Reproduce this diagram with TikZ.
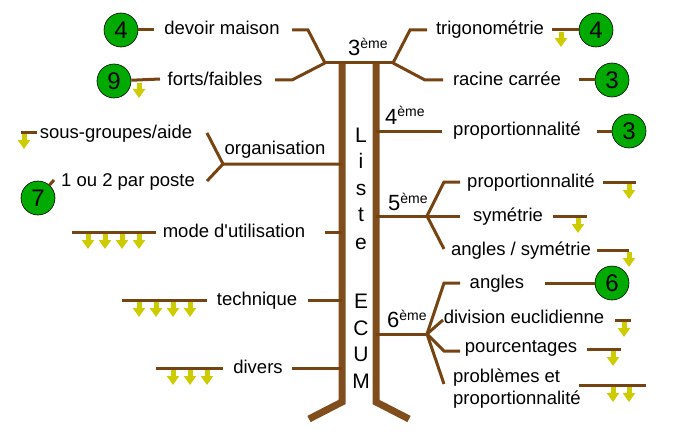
\documentclass[tikz,border=0pt]{standalone}
\usepackage{fontspec}
\setmainfont{Liberation Sans}
\usetikzlibrary{arrows.meta}
\definecolor{br}{RGB}{117,68,18}
\definecolor{trunkc}{RGB}{128,78,28}
\definecolor{yel}{RGB}{204,204,0}
\definecolor{grn}{RGB}{0,170,0}
\begin{document}
\begin{tikzpicture}[x=1pt,y=-1pt,
  branch/.style={br,line width=3pt},
  trunk/.style={trunkc,line width=7pt},
  lbl/.style={inner sep=0pt,text height=13pt,text depth=3pt,font=\fontsize{18.5}{22}\selectfont},
  vlet/.style={inner sep=0pt,anchor=base,font=\fontsize{21}{24}\selectfont},
  grade/.style={inner sep=0pt,anchor=base west},
  num/.style={circle,draw=black,fill=grn,minimum size=34pt,inner sep=0pt,line width=0.6pt,font=\fontsize{24}{24}\selectfont},
  yarr/.style={yel,line width=5pt,-{Triangle[width=12pt,length=9pt]}}]
\useasboundingbox (0,0) rectangle (699,444);
\newcommand{\gradetext}[1]{{\fontsize{22}{24}\selectfont #1}\raisebox{7pt}{\fontsize{14}{14}\selectfont ème}}

% trunk
\coordinate (tLt) at (342,63); \coordinate (tLb) at (342,402);
\coordinate (tRt) at (376,63); \coordinate (tRb) at (376,402);
\coordinate (fL) at (309,419); \coordinate (fR) at (409,419);
\draw[trunk] (tLt) -- (tLb) -- (fL);
\draw[trunk] (tRt) -- (tRb) -- (fR);

% vertical letters
\foreach \ch/\yy/\nm in {L/142/a,i/168/b,s/195/c,t/221/d,e/249/e,E/308/f,C/335/g,U/361/h,M/388/i}
  \node[vlet] (v\nm) at (361,\yy) {\ch};

% 3eme
\coordinate (j3L) at (325,63); \coordinate (j3R) at (393,63);
\draw[branch] (j3L) -- (j3R);
\node[grade] (g3) at (348,56) {\gradetext{3}};

% devoir maison
\node[lbl] (dm) at (222,30) {devoir maison};
\coordinate (dmK) at (308,30); \coordinate (dmE) at (292,30);
\draw[branch] (j3L) -- (dmK) -- (dmE);
\node[num] (n4a) at (121,30) {4};
\coordinate (dmW) at (154,30);
\draw[branch] (n4a) -- (dmW);

% forts/faibles
\node[lbl] (ff) at (215,80) {forts/faibles};
\coordinate (ffK) at (292,80); \coordinate (ffE) at (275,80);
\draw[branch] (j3L) -- (ffK) -- (ffE);
\node[num] (n9) at (114,81) {9};
\coordinate (ffW) at (160,79);
\draw[branch] (n9) -- (ffW);
\coordinate (a9) at (139,83);
\draw[yarr] (a9) -- ++(0,15);

% organisation
\node[lbl] (org) at (275,149) {organisation};
\coordinate (orgT) at (342,164); \coordinate (orgJ) at (223,164);
\coordinate (orgU) at (207,133); \coordinate (orgD) at (207,181);
\draw[branch] (orgT) -- (orgJ) -- (orgU);
\draw[branch] (orgJ) -- (orgD);
\node[lbl] (sga) at (116,133) {sous-groupes/aide};
\coordinate (sgaW) at (21,132); \coordinate (sgaE) at (37,132);
\draw[branch] (sgaW) -- (sgaE);
\coordinate (asg) at (24,134);
\draw[yarr] (asg) -- ++(0,15);
\node[lbl] (pp) at (128,181) {1 ou 2 par poste};
\node[num] (n7) at (38,198) {7};
\coordinate (ppW) at (54,180);
\draw[branch] (n7) -- (ppW);

% mode d'utilisation
\node[lbl] (mu) at (234,232) {mode d\textquotesingle utilisation};
\coordinate (muT) at (342,232); \coordinate (muE) at (325,232);
\draw[branch] (muT) -- (muE);
\coordinate (muA) at (72,232); \coordinate (muB) at (156,232);
\draw[branch] (muA) -- (muB);
\foreach \xx in {88,105,122,139} \draw[yarr] (\xx,234) -- ++(0,15);

% technique
\node[lbl] (tq) at (257,300) {technique};
\coordinate (tqT) at (342,300); \coordinate (tqE) at (308,300);
\draw[branch] (tqT) -- (tqE);
\coordinate (tqA) at (122,300); \coordinate (tqB) at (207,300);
\draw[branch] (tqA) -- (tqB);
\foreach \xx in {139,156,173,190} \draw[yarr] (\xx,302) -- ++(0,15);

% divers
\node[lbl] (dv) at (258,368) {divers};
\coordinate (dvT) at (342,368); \coordinate (dvE) at (292,368);
\draw[branch] (dvT) -- (dvE);
\coordinate (dvA) at (156,368); \coordinate (dvB) at (223,368);
\draw[branch] (dvA) -- (dvB);
\foreach \xx in {173,190,207} \draw[yarr] (\xx,370) -- ++(0,15);

% trigonometrie
\node[lbl] (tr) at (490,30) {trigonométrie};
\coordinate (trK) at (410,30); \coordinate (trW) at (427,30);
\draw[branch] (j3R) -- (trK) -- (trW);
\node[num] (n4b) at (596,30) {4};
\coordinate (trE) at (552,30);
\draw[branch] (trE) -- (n4b);
\coordinate (atr) at (561,32);
\draw[yarr] (atr) -- ++(0,15);

% racine carree
\node[lbl] (rc) at (507,80) {racine carrée};
\coordinate (rcK) at (425,80); \coordinate (rcW) at (443,80);
\draw[branch] (j3R) -- (rcK) -- (rcW);
\node[num] (n3a) at (612,80) {3};
\coordinate (rcE) at (579,80);
\draw[branch] (rcE) -- (n3a);

% 4eme
\node[grade] (g4) at (385,124) {\gradetext{4}};
\coordinate (j4T) at (376,131); \coordinate (j4E) at (442,131);
\draw[branch] (j4T) -- (j4E);
\node[lbl] (p4) at (517,130) {proportionnalité};
\node[num] (n3b) at (629,131) {3};
\coordinate (p4E) at (597,131);
\draw[branch] (p4E) -- (n3b);

% 5eme
\node[grade] (g5) at (388,210) {\gradetext{5}};
\coordinate (j5T) at (376,216); \coordinate (j5) at (427,216);
\coordinate (j5a) at (444,182); \coordinate (j5aE) at (460,182);
\coordinate (j5bE) at (460,216);
\coordinate (j5c) at (444,249);
\draw[branch] (j5T) -- (j5) -- (j5bE);
\draw[branch] (j5) -- (j5a) -- (j5aE);
\draw[branch] (j5) -- (j5c);
\node[lbl] (p5) at (531,182) {proportionnalité};
\coordinate (p5A) at (603,182); \coordinate (p5B) at (636,182);
\draw[branch] (p5A) -- (p5B);
\draw[yarr] (629,184) -- ++(0,15);
\node[lbl] (sy) at (508,216) {symétrie};
\coordinate (syA) at (553,216); \coordinate (syB) at (587,216);
\draw[branch] (syA) -- (syB);
\draw[yarr] (578,218) -- ++(0,15);
\node[lbl] (as) at (521,250) {angles / symétrie};
\coordinate (asA) at (597,250); \coordinate (asB) at (629,250);
\draw[branch] (asA) -- (asB);
\draw[yarr] (629,252) -- ++(0,15);

% 6eme
\node[grade] (g6) at (387,327) {\gradetext{6}};
\coordinate (j6T) at (376,334); \coordinate (j6) at (427,334);
\coordinate (j6a) at (444,283); \coordinate (j6aE) at (460,283);
\coordinate (j6b) at (443,320);
\coordinate (j6c) at (444,351); \coordinate (j6cE) at (460,351);
\coordinate (j6d) at (444,384);
\draw[branch] (j6T) -- (j6);
\draw[branch] (j6) -- (j6a) -- (j6aE);
\draw[branch] (j6) -- (j6b);
\draw[branch] (j6) -- (j6c) -- (j6cE);
\draw[branch] (j6) -- (j6d);
\node[lbl] (an) at (497,283) {angles};
\node[num] (n6) at (612,283) {6};
\coordinate (anE) at (545,283);
\draw[branch] (anE) -- (n6);
\node[lbl] (de) at (524,318) {division euclidienne};
\coordinate (deA) at (615,320); \coordinate (deB) at (631,320);
\draw[branch] (deA) -- (deB);
\draw[yarr] (624,322) -- ++(0,15);
\node[lbl] (pc) at (521,347) {pourcentages};
\coordinate (pcA) at (587,349); \coordinate (pcB) at (621,349);
\draw[branch] (pcA) -- (pcB);
\draw[yarr] (613,351) -- ++(0,15);
\node[inner sep=0pt,anchor=west,align=left,font=\fontsize{18.5}{22}\selectfont] (pb) at (453,389) {problèmes et\\proportionnalité};
\coordinate (pbA) at (579,385); \coordinate (pbB) at (646,385);
\draw[branch] (pbA) -- (pbB);
\foreach \xx in {613,629} \draw[yarr] (\xx,387) -- ++(0,15);
\end{tikzpicture}
\end{document}
